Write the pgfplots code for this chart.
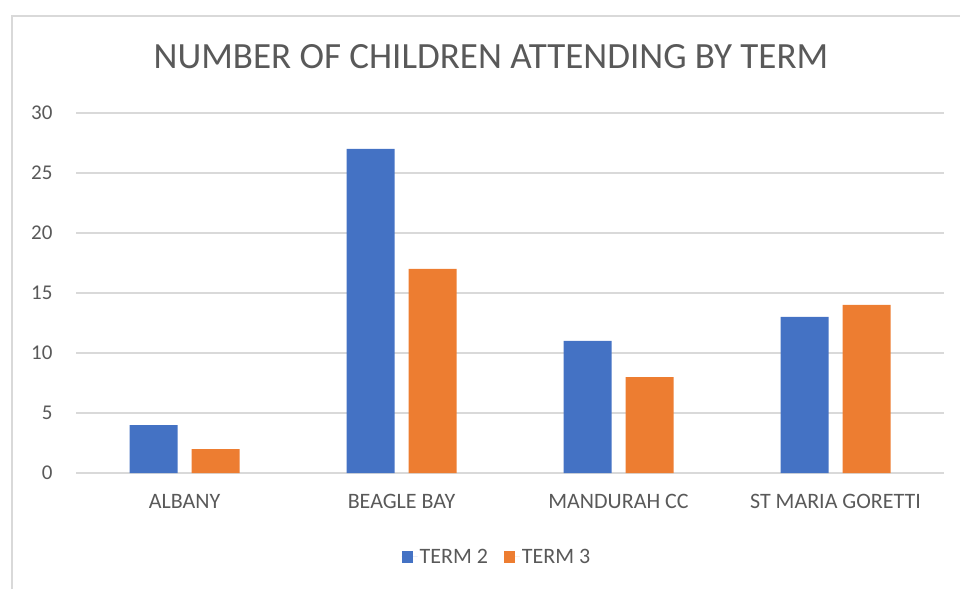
\documentclass[border=0pt]{standalone}
\usepackage{pgfplots}
\pgfplotsset{compat=1.18}
\usepackage{fontspec}
\setmainfont{Carlito}
\definecolor{termtwo}{HTML}{4472C4}
\definecolor{termthree}{HTML}{ED7D31}
\definecolor{txtgray}{HTML}{595959}
\definecolor{gridgray}{HTML}{D9D9D9}
\definecolor{framegray}{HTML}{D9D9D9}

\pgfplotstableread{
idx term2 term3
0   4     2
1   27    17
2   11    8
3   13    14
}\attendance

\begin{document}
\begin{tikzpicture}[x=1pt,y=1pt]
\useasboundingbox (0,0) rectangle (960,589);
% chart frame (left and top edges)
\draw[framegray, line width=2pt] (12,0) -- (12,573) -- (960,573);
% title
\node[txtgray, font=\fontsize{37}{44}\selectfont] at (491,532) {NUMBER OF CHILDREN ATTENDING BY TERM};
\begin{axis}[
  at={(76pt,116pt)}, anchor=south west,
  scale only axis, width=868pt, height=360pt,
  ymin=0, ymax=30, xmin=-0.5, xmax=3.5,
  ytick={0,5,...,30},
  xtick=data,
  xticklabels={ALBANY, BEAGLE BAY, MANDURAH CC, ST MARIA GORETTI},
  axis line style={draw=none},
  major tick length=0pt,
  ymajorgrids, grid style={gridgray, line width=1.2pt},
  tick label style={txtgray},
  yticklabel style={anchor=east, xshift=-20pt, font=\fontsize{21}{25}\selectfont},
  xticklabel style={anchor=north, yshift=-18pt, font=\fontsize{22}{26}\selectfont},
  /pgf/number format/assume math mode=true,
  ybar, bar width=48pt,
  legend columns=2,
  legend style={at={(0.485,-0.233)}, anchor=center, draw=none, fill=none,
    font=\fontsize{22}{26}\selectfont, text=txtgray,
    /tikz/every even column/.append style={column sep=14pt}},
  legend image code/.code={%
    \fill[#1] (0pt,-6pt) rectangle (11pt,6pt);
    \path (0pt,0pt) -- (16pt,0pt);},
]
\addplot[fill=termtwo, draw=none, bar shift=-31pt] table[x=idx, y=term2] {\attendance};
\addplot[fill=termthree, draw=none, bar shift=31pt] table[x=idx, y=term3] {\attendance};
\legend{TERM 2, TERM 3}
\end{axis}
\end{tikzpicture}
\end{document}
